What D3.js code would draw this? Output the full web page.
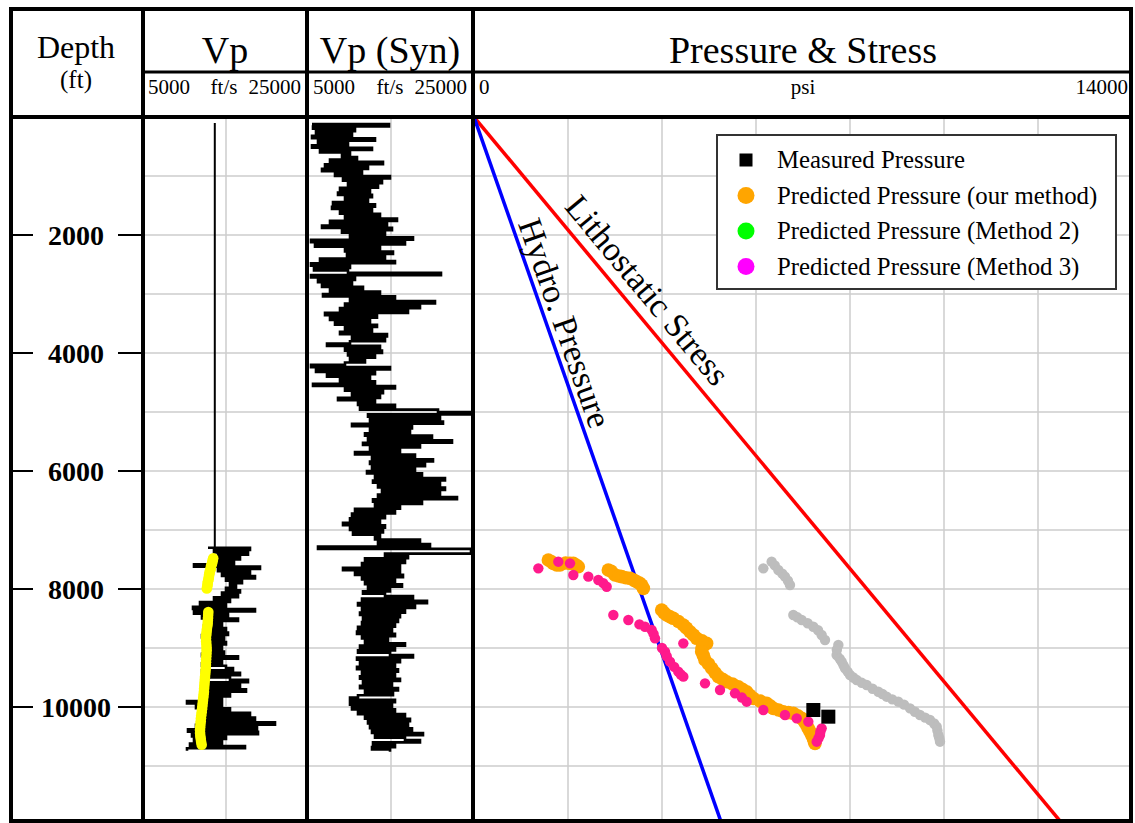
<!DOCTYPE html>
<html>
<head>
<meta charset="utf-8">
<script src="https://cdn.jsdelivr.net/npm/d3@7"></script>
<style>
  body { margin: 0; background: #fff; }
  svg { display: block; }
  text { font-family: "Liberation Serif", "Times New Roman", serif; fill: #000; }
</style>
</head>
<body>
<svg id="chart" width="1135" height="823"></svg>
<script>
// ---------------- data ----------------
const trackTitles = ["Depth", "Vp", "Vp (Syn)", "Pressure & Stress"];
const depthUnit = "(ft)";
const depthLabels = [2000, 4000, 6000, 8000, 10000];
const depthGrid = [1000, 2000, 3000, 4000, 5000, 6000, 7000, 8000, 9000, 10000, 11000];
const velocityScaleLabels = ["5000", "ft/s", "25000"];
const velocityGrid = [15000];
const pressureScaleLabels = ["0", "psi", "14000"];
const pressureGrid = [2000, 4000, 6000, 8000, 10000, 12000];

// Vp log (ft/s), sampled every 40 ft from 7300 ft
const vpLogTop = 7300, vpLogStep = 40;
const vpLog = [
  12750, 18000, 13500, 17750, 14000, 16750, 13875, 16000, 11000, 19250,
  14000, 18000, 14500, 18625, 15000, 17000, 15500, 16250, 15000, 16750,
  14500, 16500, 13500, 15500, 11750, 15000, 10875, 18625, 11000, 15250,
  12000, 16500, 12500, 14500, 12250, 15000, 12500, 15250, 12000, 14750,
  12500, 15000, 12250, 14500, 12500, 14750, 12000, 16500, 12500, 14500,
  12000, 15000, 15875, 12000, 16750, 12250, 15500, 17750, 12000, 16750,
  12250, 17500, 12000, 15500, 12500, 14500, 10125, 14500, 11250, 15500,
  11750, 18000, 12000, 18625, 11500, 21125, 11250, 18875, 10250, 19000,
  10750, 15000, 11000, 14500, 10500, 17375, 10125
];
// constant Vp above the logged interval (depth ft, ft/s)
const vpAboveLogged = [[100, 13600], [7300, 13600]];

// Vp trend picks (depth ft, ft/s)
const vpTrendUpper = [
  [7480, 13400], [7510, 13350], [7540, 13300], [7570, 13250], [7600, 13150], [7630, 13100],
  [7660, 13100], [7690, 13000], [7720, 12950], [7750, 12900], [7780, 12875], [7810, 12850],
  [7840, 12800], [7870, 12750], [7900, 12700], [7930, 12700], [7960, 12650], [7990, 12600]
];
const vpTrendLower = [
  [8390, 12790], [8440, 12770], [8490, 12750], [8540, 12730], [8590, 12710], [8640, 12650],
  [8690, 12600], [8740, 12560], [8790, 12520], [8840, 12500], [8890, 12520], [8940, 12550],
  [8990, 12570], [9040, 12580], [9090, 12560], [9140, 12540], [9190, 12520], [9240, 12500],
  [9290, 12490], [9340, 12470], [9390, 12440], [9440, 12410], [9490, 12375], [9540, 12350],
  [9590, 12320], [9640, 12290], [9690, 12260], [9740, 12240], [9790, 12200], [9840, 12160],
  [9890, 12120], [9940, 12080], [9990, 12040], [10040, 12000], [10090, 11960], [10140, 11910],
  [10190, 11870], [10240, 11840], [10290, 11810], [10340, 11780], [10390, 11750], [10440, 11760],
  [10490, 11790], [10540, 11840], [10590, 11890], [10640, 11960]
];

// Synthetic Vp log (ft/s), sampled every 40 ft from 120 ft
const synLogTop = 120, synLogStep = 40;
const synLog = [
  5125, 14750, 5250, 10500, 5625, 10125, 5125, 13000, 5875, 9625,
  5125, 12625, 6125, 9875, 8875, 10750, 7375, 14000, 6750, 12125,
  6375, 11375, 8000, 14875, 9000, 13875, 9625, 13375, 8625, 12375,
  8375, 12625, 9250, 12125, 7750, 13000, 7625, 12625, 8625, 13625,
  9250, 15750, 7375, 14500, 6375, 15125, 8875, 14250, 9875, 17750,
  5000, 16750, 5500, 13625, 9250, 15250, 9500, 14250, 6125, 15500,
  5000, 9875, 5375, 9625, 21250, 5000, 10500, 5875, 10125, 6375,
  11500, 7375, 13625, 6500, 15500, 9875, 20500, 9250, 18625, 8625,
  17125, 6750, 13250, 7375, 12375, 8000, 13250, 9250, 12625, 8625,
  14500, 10125, 14250, 9875, 7000, 13625, 9250, 13875, 9625, 13000,
  9875, 11750, 9250, 5000, 14875, 5625, 13000, 7000, 12375, 8625,
  13000, 5250, 15500, 9250, 14000, 10125, 13625, 8375, 13000, 10875,
  15500, 11125, 20875, 25000, 12125, 21125, 12375, 21500, 10125, 17625,
  12375, 17375, 11750, 20125, 12125, 22625, 11500, 18625, 12375, 16125,
  10500, 18000, 12625, 20250, 12375, 19250, 12625, 18000, 12000, 18875,
  13000, 21750, 12750, 21125, 13375, 21750, 13875, 21125, 13375, 23250,
  12750, 18875, 13000, 16125, 10500, 15500, 10125, 14250, 9875, 13625,
  9000, 14250, 9875, 14000, 10250, 13625, 13000, 18625, 13375, 19875,
  5875, 25000, 25000, 14250, 17125, 11750, 16750, 11375, 16125, 9000,
  16125, 10500, 16500, 11375, 15500, 11750, 16375, 12125, 14875, 11500,
  14250, 17750, 11375, 19500, 10875, 18000, 11375, 16750, 11125, 16125,
  11500, 15875, 11375, 15500, 10875, 15125, 10750, 15500, 11375, 14625,
  11750, 16750, 11125, 15500, 10875, 14875, 17750, 10750, 16125, 11125,
  15500, 10750, 15875, 11375, 15500, 11125, 16125, 11500, 15125, 11125,
  15875, 11750, 15250, 10875, 9875, 15500, 9875, 15125, 10125, 15500,
  10875, 16750, 11750, 17375, 12125, 17125, 12375, 17625, 12625, 19000,
  13000, 16750, 18625, 12750, 15500, 12625, 14875
];

// Pressure gradients as straight lines (depth ft, psi)
const hydrostaticLine = [[0, 0], [12000, 5280]];
const lithostaticLine = [[0, 0], [12000, 12540]];
const lineLabels = ["Hydro. Pressure", "Lithostatic Stress"];

// Pressure points (depth ft, psi)
const measuredPressure = [[10051, 7220], [10164, 7539]];
const predictedOurMethod = [
  [7508, 1582], [7540, 1650], [7565, 1688], [7593, 1760], [7593, 1830], [7560, 1950], [7565, 2040],
  [7565, 2113], [7600, 2180], [7622, 2220],
  [7678, 2858], [7700, 2920], [7763, 3000], [7780, 3080], [7791, 3142], [7810, 3230], [7819, 3319],
  [7850, 3400], [7876, 3461], [7900, 3520], [7932, 3568], [7989, 3603],
  [8356, 3993], [8400, 4040], [8441, 4099], [8470, 4170], [8497, 4241], [8550, 4350], [8610, 4454],
  [8660, 4520], [8724, 4596], [8780, 4670], [8836, 4738], [8880, 4850], [8921, 4950], [8960, 4880],
  [9000, 4850], [9063, 4844], [9130, 4880], [9203, 4915], [9270, 4990], [9344, 5057], [9420, 5130],
  [9486, 5198], [9530, 5290], [9571, 5376], [9610, 5500], [9656, 5624], [9700, 5710], [9741, 5801],
  [9800, 5870], [9853, 5943], [9900, 6090], [9938, 6227], [9980, 6300], [10023, 6369], [10050, 6480],
  [10080, 6581], [10095, 6690], [10108, 6794], [10150, 6890], [10192, 6972], [10250, 7030],
  [10305, 7078], [10360, 7110], [10418, 7149], [10480, 7190], [10531, 7220], [10580, 7240], [10616, 7255]
];
const predictedMethod2 = [];
const predictedMethod3 = [
  [7650, 1369], [7537, 1794], [7565, 2043], [7763, 2113], [7791, 2433], [7848, 2645], [7900, 2750],
  [7961, 2823], [8441, 2965], [8525, 3284], [8600, 3520], [8639, 3638], [8695, 3780], [8760, 3820],
  [8836, 3851], [8921, 4454], [9000, 4000], [9063, 4064], [9140, 4100], [9232, 4170], [9320, 4260],
  [9401, 4347], [9450, 4400], [9486, 4454], [9599, 4915], [9712, 5234], [9768, 5553], [9840, 5700],
  [9910, 5801], [10051, 6156], [10136, 6617], [10192, 6866], [10249, 7113], [10362, 7397],
  [10420, 7370], [10475, 7362], [10530, 7330], [10588, 7291]
];
const otherEstimate = [
  [7650, 6156], [7537, 6333], [7600, 6400], [7678, 6475], [7740, 6560], [7791, 6617], [7860, 6680],
  [7932, 6723], [8441, 6794], [8480, 6880], [8525, 6972], [8580, 7100], [8639, 7220], [8700, 7320],
  [8780, 7397], [8864, 7468], [8949, 7752], [9030, 7720], [9119, 7716], [9180, 7780], [9232, 7823],
  [9290, 7860], [9344, 7894], [9400, 7950], [9458, 8000], [9500, 8070], [9542, 8142], [9590, 8250],
  [9627, 8355], [9690, 8480], [9741, 8603], [9780, 8690], [9825, 8780], [9870, 8900], [9910, 9028],
  [9960, 9150], [10023, 9277], [10080, 9380], [10136, 9489], [10180, 9600], [10220, 9702],
  [10280, 9790], [10333, 9844], [10400, 9860], [10475, 9879], [10530, 9900], [10588, 9915]
];
const legendLabels = [
  "Measured Pressure",
  "Predicted Pressure (our method)",
  "Predicted Pressure (Method 2)",
  "Predicted Pressure (Method 3)"
];

// ---------------- layout ----------------
const svg = d3.select("#chart");
const frame = { left: 11, right: 1131, top: 9, bottom: 821 };
const headerSplit = 72, headerBottom = 117;
const tracks = { depth: [11, 143], vp: [143, 307], syn: [307, 473], pres: [473, 1131] };

const y = d3.scaleLinear().domain([0, 12000]).range([117, 825]);
const xVp = d3.scaleLinear().domain([5000, 25000]).range([146, 306]);
const xSyn = d3.scaleLinear().domain([5000, 25000]).range([311, 471]);
const xP = d3.scaleLinear().domain([0, 14000]).range([474, 1132]);

const gridColor = "#cccccc";

const defs = svg.append("defs");
function addClip(id, x0, x1) {
  defs.append("clipPath").attr("id", id)
    .append("rect").attr("x", x0).attr("y", headerBottom + 2)
    .attr("width", x1 - x0).attr("height", frame.bottom - headerBottom - 2);
}
addClip("clip-vp", tracks.vp[0] + 2, tracks.vp[1] - 2);
addClip("clip-syn", tracks.syn[0] + 2, tracks.syn[1] - 2);
addClip("clip-pres", tracks.pres[0] + 2, tracks.pres[1] - 2);

svg.append("rect").attr("width", 1135).attr("height", 823).attr("fill", "#fff");

// ---------------- grids ----------------
function horizontalGrid(x0, x1) {
  svg.append("g").selectAll("line").data(depthGrid).join("line")
    .attr("x1", x0).attr("x2", x1)
    .attr("y1", d => y(d)).attr("y2", d => y(d))
    .attr("stroke", gridColor).attr("stroke-width", 1.5);
}
horizontalGrid(tracks.vp[0], tracks.vp[1]);
horizontalGrid(tracks.syn[0], tracks.syn[1]);
horizontalGrid(tracks.pres[0], tracks.pres[1]);

function verticalGrid(values, scale) {
  svg.append("g").selectAll("line").data(values).join("line")
    .attr("x1", d => scale(d)).attr("x2", d => scale(d))
    .attr("y1", headerBottom).attr("y2", frame.bottom)
    .attr("stroke", gridColor).attr("stroke-width", 1.5);
}
verticalGrid(velocityGrid, xVp);
verticalGrid(velocityGrid, xSyn);
verticalGrid(pressureGrid, xP);

// ---------------- logs ----------------
const stepLine = scale => d3.line()
  .x(d => scale(d[1])).y(d => y(d[0]))
  .curve(d3.curveStepAfter);

const vpSeries = vpLog.map((v, i) => [vpLogTop + i * vpLogStep, v]);
const synSeries = synLog.map((v, i) => [synLogTop + i * synLogStep, v]);

const gVp = svg.append("g").attr("clip-path", "url(#clip-vp)");
gVp.append("path").datum(vpAboveLogged)
  .attr("d", d3.line().x(d => xVp(d[1])).y(d => y(d[0])))
  .attr("fill", "none").attr("stroke", "#000").attr("stroke-width", 2);
gVp.append("path").datum(vpSeries)
  .attr("d", stepLine(xVp))
  .attr("fill", "none").attr("stroke", "#000").attr("stroke-width", 2.6);
gVp.append("g").selectAll("circle").data(vpTrendUpper.concat(vpTrendLower)).join("circle")
  .attr("cx", d => xVp(d[1])).attr("cy", d => y(d[0])).attr("r", 5.3)
  .attr("fill", "#ffff00");

const gSyn = svg.append("g").attr("clip-path", "url(#clip-syn)");
gSyn.append("path").datum(synSeries)
  .attr("d", stepLine(xSyn))
  .attr("fill", "none").attr("stroke", "#000").attr("stroke-width", 2.6);

// ---------------- pressure track ----------------
const gP = svg.append("g").attr("clip-path", "url(#clip-pres)");
const straight = d3.line().x(d => xP(d[1])).y(d => y(d[0]));
gP.append("path").datum(lithostaticLine).attr("d", straight)
  .attr("fill", "none").attr("stroke", "#ff0000").attr("stroke-width", 3.5);
gP.append("path").datum(hydrostaticLine).attr("d", straight)
  .attr("fill", "none").attr("stroke", "#0000ff").attr("stroke-width", 3.5);

function dots(data, color, r) {
  gP.append("g").selectAll("circle").data(data).join("circle")
    .attr("cx", d => xP(d[1])).attr("cy", d => y(d[0])).attr("r", r)
    .attr("fill", color);
}
dots(otherEstimate, "#bdbdbd", 5.2);
dots(predictedOurMethod, "#ffa500", 6.8);
dots(predictedMethod2, "#00ff00", 5.2);
dots(predictedMethod3, "#ff1a8c", 5.2);
gP.append("g").selectAll("rect").data(measuredPressure).join("rect")
  .attr("x", d => xP(d[1]) - 7).attr("y", d => y(d[0]) - 7)
  .attr("width", 14).attr("height", 14).attr("fill", "#000");

// labels laid along the gradient lines
function lineLabel(line, text, anchorDepth, offset) {
  const p0 = [xP(line[0][1]), y(line[0][0])];
  const p1 = [xP(line[1][1]), y(line[1][0])];
  const dx = p1[0] - p0[0], dy = p1[1] - p0[1];
  const len = Math.hypot(dx, dy);
  const angle = Math.atan2(dy, dx) * 180 / Math.PI;
  const t = (y(anchorDepth) - p0[1]) / dy;
  const cx = p0[0] + dx * t + (dy / len) * offset;
  const cy = p0[1] + dy * t - (dx / len) * offset;
  svg.append("text")
    .attr("transform", `translate(${cx},${cy}) rotate(${angle})`)
    .attr("text-anchor", "middle").attr("dy", "0.35em")
    .style("font-size", "34px").text(text);
}
lineLabel(hydrostaticLine, lineLabels[0], 3590, 18);
lineLabel(lithostaticLine, lineLabels[1], 3180, 23);

// ---------------- legend ----------------
const legend = svg.append("g");
legend.append("rect").attr("x", 717).attr("y", 135).attr("width", 399).attr("height", 154)
  .attr("fill", "#fff").attr("stroke", "#333").attr("stroke-width", 2);
const legendColors = ["#000", "#ffa500", "#00ff00", "#ff00ff"];
legendLabels.forEach((label, i) => {
  const cy = 160 + i * 35.5;
  if (i === 0) {
    legend.append("rect").attr("x", 739.5).attr("y", cy - 6.5).attr("width", 13).attr("height", 13)
      .attr("fill", legendColors[i]);
  } else {
    legend.append("circle").attr("cx", 746).attr("cy", cy).attr("r", 8.5).attr("fill", legendColors[i]);
  }
  legend.append("text").attr("x", 777).attr("y", cy + 8)
    .style("font-size", "24.8px").text(label);
});

// ---------------- depth track ----------------
const gD = svg.append("g");
depthLabels.forEach(d => {
  gD.append("line").attr("x1", 12).attr("x2", 33).attr("y1", y(d)).attr("y2", y(d))
    .attr("stroke", "#000").attr("stroke-width", 2);
  gD.append("line").attr("x1", 118).attr("x2", 142).attr("y1", y(d)).attr("y2", y(d))
    .attr("stroke", "#000").attr("stroke-width", 2);
});
gD.selectAll("text").data(depthLabels).join("text")
  .attr("x", 76).attr("y", d => y(d)).attr("dy", "0.35em")
  .attr("text-anchor", "middle")
  .style("font-size", "28px").style("font-weight", "bold")
  .text(d => d);

// ---------------- header ----------------
const hdr = svg.append("g");
hdr.append("text").attr("x", 76).attr("y", 58).attr("text-anchor", "middle")
  .style("font-size", "32px").text(trackTitles[0]);
hdr.append("text").attr("x", 76).attr("y", 88).attr("text-anchor", "middle")
  .style("font-size", "25px").text(depthUnit);
hdr.append("text").attr("x", 225).attr("y", 63).attr("text-anchor", "middle")
  .style("font-size", "38px").text(trackTitles[1]);
hdr.append("text").attr("x", 390).attr("y", 63).attr("text-anchor", "middle")
  .style("font-size", "38px").text(trackTitles[2]);
hdr.append("text").attr("x", 803).attr("y", 63).attr("text-anchor", "middle")
  .style("font-size", "38px").text(trackTitles[3]);

function scaleRow(labels, x0, xm, x1) {
  const anchors = ["start", "middle", "end"];
  [x0, xm, x1].forEach((x, i) => {
    hdr.append("text").attr("x", x).attr("y", 94).attr("text-anchor", anchors[i])
      .style("font-size", "21px").text(labels[i]);
  });
}
scaleRow(velocityScaleLabels, 148, 224, 301);
scaleRow(velocityScaleLabels, 313, 390, 467);
scaleRow(pressureScaleLabels, 479, 803, 1128);

// ---------------- frame ----------------
const fr = svg.append("g").attr("stroke", "#000").attr("fill", "none");
fr.append("rect").attr("x", frame.left).attr("y", frame.top)
  .attr("width", frame.right - frame.left).attr("height", frame.bottom - frame.top)
  .attr("stroke-width", 4);
[tracks.vp[0], tracks.syn[0], tracks.pres[0]].forEach(x => {
  fr.append("line").attr("x1", x).attr("x2", x).attr("y1", frame.top).attr("y2", frame.bottom)
    .attr("stroke-width", 4);
});
fr.append("line").attr("x1", tracks.vp[0]).attr("x2", frame.right)
  .attr("y1", headerSplit).attr("y2", headerSplit).attr("stroke-width", 3);
fr.append("line").attr("x1", frame.left).attr("x2", frame.right)
  .attr("y1", headerBottom).attr("y2", headerBottom).attr("stroke-width", 4);
</script>
</body>
</html>
